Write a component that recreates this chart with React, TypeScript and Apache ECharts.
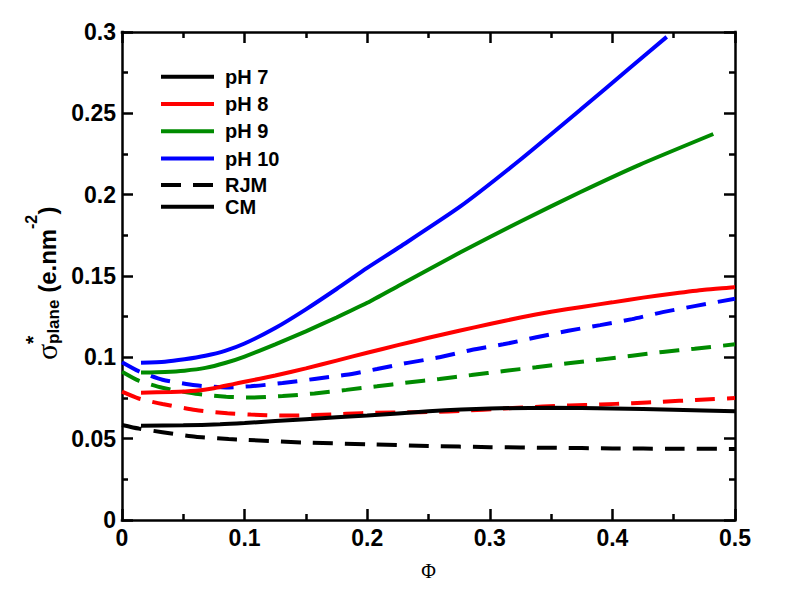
import React, { useEffect, useRef } from "react";
import * as echarts from "echarts";

// ---- Data ----
// CM model (solid lines)
const phiCM7 = [0.0155, 0.05, 0.08, 0.1, 0.15, 0.2, 0.25, 0.3, 0.35, 0.4, 0.45, 0.5];
const cmPH7 = [0.058, 0.0582, 0.0588, 0.0596, 0.062, 0.0642, 0.0668, 0.0685, 0.069, 0.0685, 0.0678, 0.0668];

const phiCM8 = [0.0155, 0.04, 0.06, 0.075, 0.09, 0.1, 0.125, 0.15, 0.175, 0.2, 0.225, 0.25, 0.275, 0.3, 0.325, 0.35, 0.375, 0.4, 0.425, 0.45, 0.475, 0.5];
const cmPH8 = [0.0783, 0.0787, 0.0795, 0.081, 0.0834, 0.085, 0.0888, 0.0932, 0.098, 0.1028, 0.1075, 0.112, 0.1163, 0.1205, 0.1245, 0.128, 0.131, 0.1338, 0.1367, 0.1392, 0.1415, 0.1432];

const phiCM9 = [0.0155, 0.035, 0.051, 0.068, 0.084, 0.1, 0.125, 0.15, 0.175, 0.2, 0.2268, 0.2757, 0.3246, 0.3736, 0.4225, 0.4823];
const cmPH9 = [0.0906, 0.091, 0.0918, 0.0935, 0.0965, 0.1005, 0.108, 0.116, 0.1245, 0.1335, 0.1445, 0.1644, 0.1834, 0.2015, 0.2185, 0.2373];

const phiCM10 = [0.0155, 0.035, 0.051, 0.068, 0.084, 0.1, 0.125, 0.15, 0.175, 0.2, 0.2268, 0.2757, 0.3246, 0.3736, 0.4144, 0.4443];
const cmPH10 = [0.0967, 0.0973, 0.0988, 0.101, 0.104, 0.1085, 0.118, 0.1295, 0.142, 0.155, 0.168, 0.1926, 0.2213, 0.252, 0.278, 0.297];

// RJM model (dashed lines)
const phiRJM7 = [0, 0.0136, 0.033, 0.06, 0.087, 0.1, 0.15, 0.2, 0.25, 0.3, 0.35, 0.4, 0.45, 0.5];
const rjmPH7 = [0.0584, 0.0562, 0.054, 0.0512, 0.0498, 0.0493, 0.0476, 0.0466, 0.0455, 0.0448, 0.0444, 0.044, 0.0438, 0.0437];

const phiRJM8 = [0, 0.0136, 0.033, 0.06, 0.086, 0.105, 0.131, 0.157, 0.183, 0.208, 0.233, 0.2535, 0.279, 0.31, 0.343, 0.365, 0.39, 0.416, 0.441, 0.468, 0.5];
const rjmPH8 = [0.0789, 0.0747, 0.0713, 0.0676, 0.0656, 0.0648, 0.0642, 0.0645, 0.0653, 0.066, 0.0662, 0.0664, 0.0672, 0.0685, 0.0697, 0.0704, 0.071, 0.0718, 0.0727, 0.0738, 0.075];

const phiRJM9 = [0, 0.0136, 0.033, 0.06, 0.085, 0.105, 0.131, 0.157, 0.183, 0.208, 0.233, 0.259, 0.285, 0.3116, 0.3377, 0.364, 0.39, 0.416, 0.441, 0.467, 0.5];
const rjmPH9 = [0.0912, 0.0857, 0.0813, 0.0776, 0.0758, 0.0753, 0.0762, 0.0778, 0.08, 0.0822, 0.0845, 0.0867, 0.0891, 0.0916, 0.0939, 0.0963, 0.0986, 0.101, 0.1033, 0.1053, 0.108];

const phiRJM10 = [0, 0.0136, 0.033, 0.06, 0.085, 0.105, 0.131, 0.157, 0.183, 0.208, 0.233, 0.259, 0.285, 0.311, 0.338, 0.364, 0.39, 0.416, 0.441, 0.467, 0.5];
const rjmPH10 = [0.097, 0.0915, 0.0862, 0.0828, 0.0815, 0.0822, 0.0842, 0.0867, 0.0893, 0.0928, 0.0966, 0.1, 0.1045, 0.108, 0.1123, 0.1163, 0.1198, 0.1235, 0.1278, 0.1315, 0.136];

const phLabels = ["pH 7", "pH 8", "pH 9", "pH 10"];
const modelLabels = ["RJM", "CM"];
const phColors = ["#000000", "#ff0000", "#008b00", "#0000ff"];

const zip = (xs: number[], ys: number[]) => xs.map((x, i) => [x, ys[i]]);

const SANS = '"Liberation Sans", Arial, Helvetica, sans-serif';
const SERIF = '"Liberation Serif", "Times New Roman", serif';
const DASH = [20, 12];
const LW = 4;

export default function App() {
  const ref = useRef<HTMLDivElement>(null);

  useEffect(() => {
    if (!ref.current) return;
    const chart = echarts.init(ref.current, null, { renderer: "svg" });

    const cmSets = [zip(phiCM7, cmPH7), zip(phiCM8, cmPH8), zip(phiCM9, cmPH9), zip(phiCM10, cmPH10)];
    const rjmSets = [zip(phiRJM7, rjmPH7), zip(phiRJM8, rjmPH8), zip(phiRJM9, rjmPH9), zip(phiRJM10, rjmPH10)];

    const series: any[] = [];
    rjmSets.forEach((d, i) => {
      series.push({
        type: "line",
        name: phLabels[i] + " RJM",
        data: d,
        symbol: "none",
        smooth: 0.2,
        lineStyle: { color: phColors[i], width: LW, type: DASH },
        itemStyle: { color: phColors[i] },
        z: 2,
      });
    });
    cmSets.forEach((d, i) => {
      series.push({
        type: "line",
        name: phLabels[i],
        data: d,
        symbol: "none",
        smooth: 0.2,
        lineStyle: { color: phColors[i], width: LW, type: "solid" },
        itemStyle: { color: phColors[i] },
        z: 3,
      });
    });
    // legend-only entries for the model line styles
    series.push({
      type: "line",
      name: modelLabels[0],
      data: [],
      symbol: "none",
      lineStyle: { color: "#000", width: LW, type: DASH },
      itemStyle: { color: "#000" },
    });
    series.push({
      type: "line",
      name: modelLabels[1],
      data: [],
      symbol: "none",
      lineStyle: { color: "#000", width: LW, type: "solid" },
      itemStyle: { color: "#000" },
    });

    const axisLineStyle = { color: "#000", width: 2.5, cap: "square" };
    const tickCommon = { show: true, inside: true, length: 11, lineStyle: { color: "#000", width: 2.5 } };
    const minorCommon = { show: true, splitNumber: 2, length: 6, lineStyle: { color: "#000", width: 2.5 } };
    const labelCommon = { color: "#000", fontFamily: SANS, fontWeight: "bold", fontSize: 23 };

    const legendCommon = {
      orient: "vertical",
      left: 159,
      padding: 0,
      itemWidth: 53,
      itemHeight: 20,
      selectedMode: false,
      itemStyle: { opacity: 0 },
      lineStyle: { width: LW },
      textStyle: { color: "#000", fontFamily: SANS, fontWeight: "bold", fontSize: 20, padding: [0, 0, 0, 6] },
    };

    const option: any = {
      animation: false,
      backgroundColor: "#fff",
      grid: { left: 122, right: 57, top: 32, bottom: 92, containLabel: false },
      legend: [
        { ...legendCommon, top: 66.7, itemGap: 7.3, data: phLabels },
        { ...legendCommon, top: 175, itemGap: 1.7, data: modelLabels },
      ],
      xAxis: [
        {
          type: "value",
          min: 0,
          max: 0.5,
          interval: 0.1,
          position: "bottom",
          name: "Φ",
          nameLocation: "middle",
          nameGap: 41,
          nameTextStyle: { color: "#000", fontFamily: SERIF, fontSize: 20 },
          axisLine: { show: true, onZero: false, lineStyle: axisLineStyle },
          axisTick: tickCommon,
          minorTick: minorCommon,
          axisLabel: { ...labelCommon, margin: 6 },
          splitLine: { show: false },
        },
        {
          type: "value",
          min: 0,
          max: 0.5,
          interval: 0.1,
          position: "top",
          axisLine: { show: true, onZero: false, lineStyle: axisLineStyle },
          axisTick: tickCommon,
          minorTick: minorCommon,
          axisLabel: { show: false },
          splitLine: { show: false },
        },
      ],
      yAxis: [
        {
          type: "value",
          min: 0,
          max: 0.3,
          interval: 0.05,
          position: "left",
          axisLine: { show: true, onZero: false, lineStyle: axisLineStyle },
          axisTick: tickCommon,
          minorTick: minorCommon,
          axisLabel: { ...labelCommon, margin: 6 },
          splitLine: { show: false },
        },
        {
          type: "value",
          min: 0,
          max: 0.3,
          interval: 0.05,
          position: "right",
          axisLine: { show: true, onZero: false, lineStyle: axisLineStyle },
          axisTick: tickCommon,
          minorTick: minorCommon,
          axisLabel: { show: false },
          splitLine: { show: false },
        },
      ],
      graphic: [
        {
          type: "group",
          x: 56,
          y: 360,
          rotation: Math.PI / 2,
          children: [
            { type: "text", x: 0, y: -10, style: { text: "σ", font: `30px ${SERIF}`, fill: "#000", align: "left", verticalAlign: "middle" } },
            { type: "text", x: 16, y: -24, style: { text: "*", font: `bold 21px ${SANS}`, fill: "#000", align: "left", verticalAlign: "middle" } },
            { type: "text", x: 16, y: -3, style: { text: "plane", font: `bold 17px ${SANS}`, fill: "#000", align: "left", verticalAlign: "middle" } },
            { type: "text", x: 60.5, y: -8.6, style: { text: " (e.nm", font: `bold 24px ${SANS}`, fill: "#000", align: "left", verticalAlign: "middle" } },
            { type: "text", x: 131, y: -25, style: { text: "-2", font: `bold 16px ${SANS}`, fill: "#000", align: "left", verticalAlign: "middle" } },
            { type: "text", x: 145.5, y: -8.6, style: { text: ")", font: `bold 24px ${SANS}`, fill: "#000", align: "left", verticalAlign: "middle" } },
          ],
        },
      ],
      series,
    };

    chart.setOption(option);
    return () => chart.dispose();
  }, []);

  return (
    <div
      ref={ref}
      style={{ position: "fixed", left: 0, top: 0, width: 792, height: 612, background: "#fff" }}
    />
  );
}
